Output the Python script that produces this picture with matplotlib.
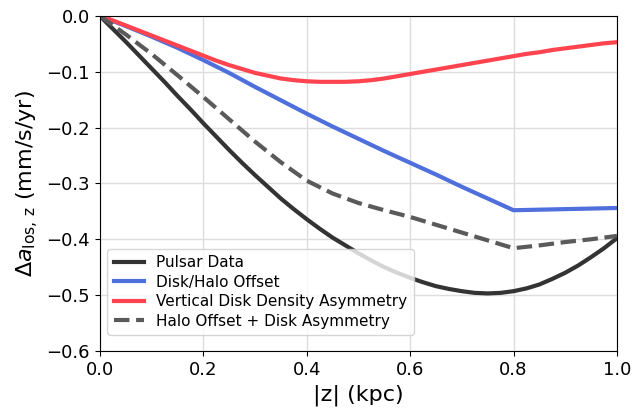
import matplotlib
matplotlib.use("Agg")
import matplotlib.pyplot as plt

# |z| 网格 (kpc)
z_fine = [0.0, 0.025, 0.05, 0.075, 0.1, 0.125, 0.15, 0.175, 0.2, 0.225, 0.25,
          0.275, 0.3, 0.325, 0.35, 0.375, 0.4, 0.425, 0.45, 0.475, 0.5,
          0.525, 0.55, 0.575, 0.6, 0.625, 0.65, 0.675, 0.7, 0.725, 0.75,
          0.775, 0.8, 0.825, 0.85, 0.875, 0.9, 0.925, 0.95, 0.975, 1.0]
z_coarse = [0.0, 0.05, 0.1, 0.15, 0.2, 0.25, 0.3, 0.35, 0.4, 0.45, 0.5,
            0.55, 0.6, 0.65, 0.7, 0.75, 0.8, 0.85, 0.9, 0.95, 1.0]

pulsar_data = [0.0, -0.023, -0.046, -0.070, -0.094, -0.118, -0.143, -0.167, -0.192,
               -0.216, -0.240, -0.263, -0.285, -0.306, -0.327, -0.346, -0.364,
               -0.381, -0.397, -0.411, -0.425, -0.438, -0.450, -0.460, -0.469,
               -0.477, -0.484, -0.489, -0.493, -0.496, -0.497, -0.496, -0.493,
               -0.488, -0.481, -0.471, -0.460, -0.447, -0.432, -0.416, -0.398]
vertical_asym = [0.0, -0.008, -0.017, -0.026, -0.035, -0.044, -0.053, -0.062, -0.071,
                 -0.080, -0.088, -0.095, -0.102, -0.107, -0.112, -0.115, -0.117,
                 -0.118, -0.118, -0.118, -0.117, -0.115, -0.112, -0.108, -0.104,
                 -0.100, -0.096, -0.092, -0.088, -0.084, -0.080, -0.076, -0.072,
                 -0.068, -0.065, -0.061, -0.058, -0.055, -0.052, -0.049, -0.047]
disk_halo = [0.0, -0.018, -0.037, -0.057, -0.079, -0.102, -0.127, -0.151, -0.175,
             -0.198, -0.220, -0.242, -0.263, -0.284, -0.306, -0.327, -0.348,
             -0.347, -0.346, -0.345, -0.344]
combined = [0.0, -0.033, -0.068, -0.106, -0.145, -0.185, -0.225, -0.262, -0.295,
            -0.318, -0.335, -0.348, -0.360, -0.374, -0.388, -0.402, -0.416,
            -0.411, -0.405, -0.400, -0.394]

fig = plt.figure(figsize=(6.44, 4.09), dpi=100)
ax = fig.add_axes([0.155, 0.142, 0.803, 0.819])

ax.plot(z_fine, pulsar_data, color="#333333", lw=3, label="Pulsar Data")
ax.plot(z_coarse, disk_halo, color="#4f6fdc", lw=3, label="Disk/Halo Offset")
ax.plot(z_fine, vertical_asym, color="#ff4450", lw=3, label="Vertical Disk Density Asymmetry")
ax.plot(z_coarse, combined, color="#5a5a5a", lw=3, ls="--", label="Halo Offset + Disk Asymmetry")

ax.set_xlim(0, 1)
ax.set_ylim(-0.6, 0)
ax.set_xticks([0.0, 0.2, 0.4, 0.6, 0.8, 1.0])
ax.set_yticks([-0.6, -0.5, -0.4, -0.3, -0.2, -0.1, 0.0])
ax.tick_params(labelsize=13)
ax.grid(True, color="#dddddd", lw=1)
ax.set_xlabel("|z| (kpc)", fontsize=16)
ax.set_ylabel(r"$\Delta a_{\rm los,\,z}$ (mm/s/yr)", fontsize=16)
ax.legend(loc="lower left", bbox_to_anchor=(0, 0.025), fontsize=11,
          framealpha=0.8, labelspacing=0.3)

fig.savefig("out.png", dpi=100)
